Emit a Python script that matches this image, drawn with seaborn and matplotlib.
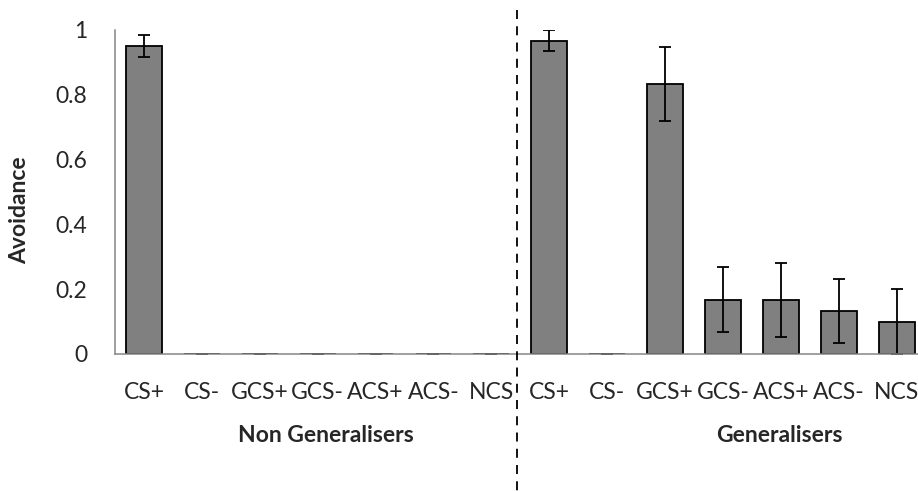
import numpy as np
import pandas as pd
import matplotlib
matplotlib.use("Agg")
import matplotlib.pyplot as plt
import seaborn as sns

# --- datos ---
categorias = ["CS+", "CS-", "GCS+", "GCS-", "ACS+", "ACS-", "NCS"]
grupos = ["Non Generalisers", "Generalisers"]
no_generalizan = [0.95, 0.0, 0.0, 0.0, 0.0, 0.0, 0.0]
no_generalizan_err = [0.034, 0.0, 0.0, 0.0, 0.0, 0.0, 0.0]
generalizan = [0.967, 0.0, 0.833, 0.167, 0.167, 0.133, 0.10]
generalizan_err = [0.033, 0.0, 0.114, 0.10, 0.114, 0.10, 0.10]
y_ticks = [0, 0.2, 0.4, 0.6, 0.8, 1]
y_ticklabels = ["0", "0.2", "0.4", "0.6", "0.8", "1"]

df = pd.DataFrame({
    "grupo": [grupos[0]] * 7 + [grupos[1]] * 7,
    "estimulo": categorias + categorias,
    "avoidance": no_generalizan + generalizan,
    "err": no_generalizan_err + generalizan_err,
})
df["slot"] = [str(i) for i in range(len(df))]

sns.set_style("white")
plt.rcParams["font.family"] = ["Lato", "DejaVu Sans"]
FS = 16.5

fig = plt.figure(figsize=(9.18, 4.91), dpi=100)
W, H = 918, 491
ancho_cat = 57.9
ax = fig.add_axes([115 / W, (H - 354) / H, 14 * ancho_cat / W, 324 / H])

sns.barplot(data=df, x="slot", y="avoidance", order=list(df["slot"]),
            color="#808080", saturation=1, edgecolor="black", linewidth=1.3,
            width=0.62, errorbar=None, ax=ax)
ax.errorbar(np.arange(len(df)), df["avoidance"], yerr=df["err"], fmt="none",
            ecolor="black", elinewidth=1.3, capsize=4.5, capthick=1.3)

ax.set_xlim(-0.5, 13.5)
ax.set_ylim(0, 1)
ax.set_yticks(y_ticks)
ax.set_yticklabels(y_ticklabels, fontsize=FS)
ax.set_xticks(np.arange(len(df)))
ax.set_xticklabels(df["estimulo"], fontsize=FS)
ax.set_xticks(np.arange(-0.5, 14, 1), minor=True)
ax.tick_params(axis="x", which="major", length=0, pad=20)
ax.tick_params(axis="x", which="minor", length=6, color="#868686", width=1.1)
ax.tick_params(axis="y", length=8, color="#868686", width=1.1, pad=12)
ax.set_xlabel("")
ax.set_ylabel("")
sns.despine(ax=ax, top=True, right=True)
for s in ["left", "bottom"]:
    ax.spines[s].set_color("#868686")
    ax.spines[s].set_linewidth(1.1)

# etiquetas de grupo
fig.text(326 / W, 1 - 435 / H, grupos[0], fontsize=FS, fontweight="bold",
         ha="center", va="center")
fig.text(779 / W, 1 - 435 / H, grupos[1], fontsize=FS, fontweight="bold",
         ha="center", va="center")
fig.text(20 / W, 1 - 210 / H, "Avoidance", fontsize=FS, fontweight="bold",
         rotation=90, ha="center", va="center")

# linea discontinua entre grupos
fig.add_artist(plt.Line2D([517 / W, 517 / W], [1 - 10 / H, 0], color="black",
                          linewidth=1.3, linestyle=(0, (5, 4))))

fig.savefig("out.png", dpi=100)
